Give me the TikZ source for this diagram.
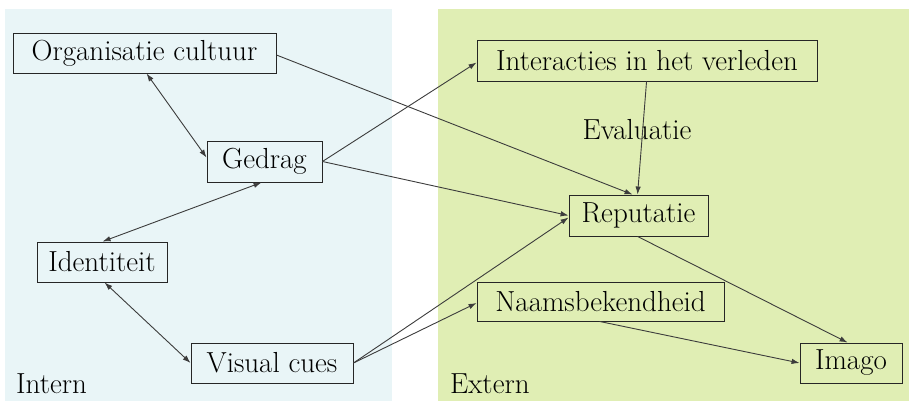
\documentclass[tikz,border=0pt]{standalone}
\usetikzlibrary{arrows.meta,calc}
\definecolor{internbg}{RGB}{233,245,247}
\definecolor{externbg}{RGB}{224,238,180}
\definecolor{linecol}{RGB}{60,60,60}
\tikzset{
  box/.style={draw=black!85, line width=0.9pt, inner sep=0pt, minimum height=40pt, font=\fontsize{29}{33}\selectfont},
  lab/.style={inner sep=0pt, font=\fontsize{29}{33}\selectfont},
  conn/.style={draw=linecol, line width=0.9pt, -{Latex[length=8pt,width=5.5pt]}},
  conn2/.style={draw=linecol, line width=0.9pt, {Latex[length=8pt,width=5.5pt]}-{Latex[length=8pt,width=5.5pt]}}
}
\begin{document}
\begin{tikzpicture}[x=1pt,y=-1pt]
\useasboundingbox (0,0) rectangle (909,401);
\fill[internbg] (5,9) rectangle (392,401);
\fill[externbg] (438,9) rectangle (909,401);

\node[box, minimum width=263pt] (org) at (144.5,53) {Organisatie cultuur};
\node[box, minimum width=115pt, minimum height=41pt] (ged) at (264.5,161.5) {Gedrag};
\node[box, minimum width=130pt] (ide) at (102,262) {Identiteit};
\node[box, minimum width=162pt] (vc) at (272,363) {Visual cues};
\node[box, minimum width=340pt, minimum height=41pt] (int) at (647,60.5) {Interacties in het verleden};
\node[box, minimum width=139pt, minimum height=41pt] (rep) at (638.5,215.5) {Reputatie};
\node[box, minimum width=247pt, minimum height=39pt] (naam) at (600.5,301.5) {Naamsbekendheid};
\node[box, minimum width=102pt] (img) at (851,363) {Imago};

\node[lab] (eval) at (637,130) {Evaluatie};
\node[lab, anchor=base west] (intern) at (16,393) {Intern};
\node[lab, anchor=base west] (extern) at (450,393) {Extern};

\draw[conn2] ($(org.south west)+(134,0)$) -- ($(ged.north west)+(0,17)$);
\draw[conn2] ($(ide.north west)+(66,0)$) -- ($(ged.south west)+(55,0)$);
\draw[conn2] ($(ide.south west)+(68,0)$) -- (vc.west);

\draw[conn] ($(org.east)+(0,2)$) -- ($(rep.north west)+(64,0)$);
\draw[conn] (ged.east) -- ($(int.west)+(0,2)$);
\draw[conn] (ged.east) -- (rep.west);
\draw[conn] ($(int.south west)+(170,0)$) -- ($(rep.north west)+(69,0)$);
\draw[conn] (vc.east) -- ($(rep.west)+(0,2)$);
\draw[conn] (vc.east) -- ($(naam.west)+(0,1.5)$);
\draw[conn] ($(rep.south west)+(69,0)$) -- ($(img.north west)+(48,0)$);
\draw[conn] ($(naam.south west)+(123,0)$) -- (img.west);
\end{tikzpicture}
\end{document}
